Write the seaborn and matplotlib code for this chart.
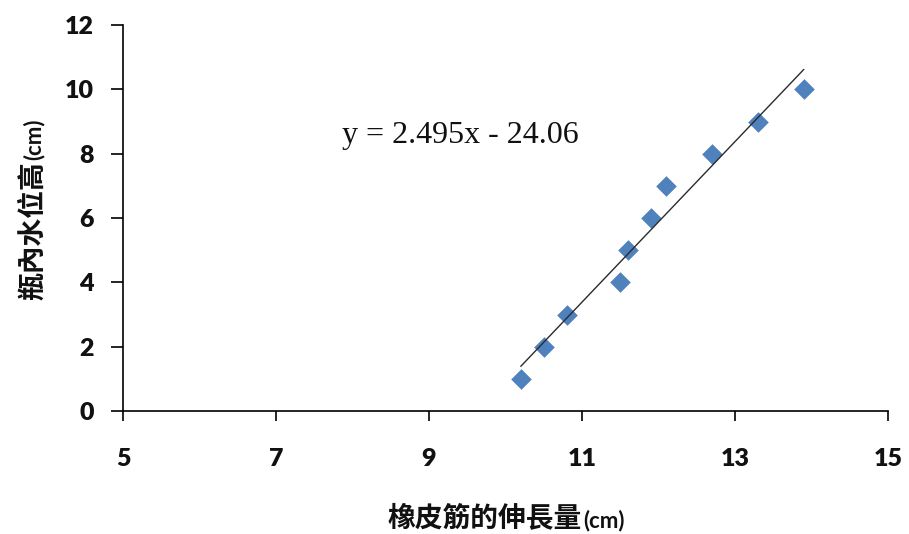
import numpy as np
import pandas as pd
import seaborn as sns
import matplotlib.pyplot as plt

# Rubber band stretch (cm) vs. water level in the bottle (cm)
stretch_cm = [10.2, 10.5, 10.8, 11.5, 11.6, 11.9, 12.1, 12.7, 13.3, 13.9]
water_level_cm = [1, 2, 3, 4, 5, 6, 7, 8, 9, 10]

# Linear trendline coefficients
slope = 2.495
intercept = -24.06

x_ticks = [5, 7, 9, 11, 13, 15]
y_ticks = [0, 2, 4, 6, 8, 10, 12]

x_title = "橡皮筋的伸長量"
y_title = "瓶內水位高"
unit = "(cm)"

sns.set_theme(style="white")
plt.rcParams["font.family"] = ["Lato", "Noto Sans CJK TC", "DejaVu Sans"]
plt.rcParams["font.weight"] = "heavy"

W, H = 909, 534
fig = plt.figure(figsize=(W / 100, H / 100), dpi=100)
ax = fig.add_axes([123 / W, 1 - 411 / H, (888 - 123) / W, (411 - 25) / H])

df = pd.DataFrame({"stretch": stretch_cm, "level": water_level_cm})
sns.scatterplot(data=df, x="stretch", y="level", marker="D", s=110,
                color="#4F81BD", linewidth=0, ax=ax, zorder=3, legend=False)

# Trendline spans the observed stretch range
xs = np.array([min(stretch_cm), max(stretch_cm)])
trend = pd.DataFrame({"x": xs, "y": slope * xs + intercept})
sns.lineplot(data=trend, x="x", y="y", color="#2b2b2b", linewidth=1.0,
             ax=ax, zorder=4)

ax.text(7.86, 8.56, f"y = {slope}x - {abs(intercept)}", ha="left", va="center",
        fontsize=23, family="Liberation Serif", fontweight="normal",
        color="#111111")

ax.set_xlim(x_ticks[0], x_ticks[-1])
ax.set_ylim(y_ticks[0], y_ticks[-1])
ax.set_xticks(x_ticks)
ax.set_yticks(y_ticks)
ax.set_xticklabels([str(t) for t in x_ticks], fontweight="heavy")
ax.set_yticklabels([str(t) for t in y_ticks], fontweight="heavy")
ax.set_xlabel("")
ax.set_ylabel("")

for side in ["top", "right"]:
    ax.spines[side].set_visible(False)
for side in ["left", "bottom"]:
    ax.spines[side].set_color("#000000")
    ax.spines[side].set_linewidth(1.2)

ax.tick_params(axis="both", which="major", direction="out", width=1.2,
               color="#000000", labelsize=18, labelcolor="#111111",
               bottom=True, left=True)
ax.tick_params(axis="x", length=7.5, pad=19)
ax.tick_params(axis="y", length=9, pad=12)

# Axis titles: bold CJK text followed by a smaller unit
cjk = dict(fontsize=20, fontweight="bold", family=["Noto Sans CJK TC", "DejaVu Sans"],
           color="#111111")
lat = dict(fontsize=16, fontweight="bold", family=["Lato", "DejaVu Sans"],
           color="#111111")

xt1 = fig.text(0, 0, x_title, ha="left", va="baseline", **cjk)
xt2 = fig.text(0, 0, unit, ha="left", va="baseline", **lat)
yt1 = fig.text(0, 0, y_title, ha="left", va="baseline", rotation=90,
               rotation_mode="anchor", **cjk)
yt2 = fig.text(0, 0, unit, ha="left", va="baseline", rotation=90,
               rotation_mode="anchor", **lat)

fig.canvas.draw()
r = fig.canvas.get_renderer()
w1 = xt1.get_window_extent(r).width
w2 = xt2.get_window_extent(r).width
cx = (123 + 888) / 2
base_y = 7
x0 = cx - (w1 + w2) / 2
xt1.set_position((x0 / W, base_y / H))
xt2.set_position(((x0 + w1 + 1) / W, base_y / H))

h1 = yt1.get_window_extent(r).height
h2 = yt2.get_window_extent(r).height
cy = H - (25 + 411) / 2 + 8
base_x = 41
y0 = cy - (h1 + h2) / 2
yt1.set_position((base_x / W, y0 / H))
yt2.set_position((base_x / W, (y0 + h1 + 1) / H))

fig.savefig("out.png", dpi=100)
